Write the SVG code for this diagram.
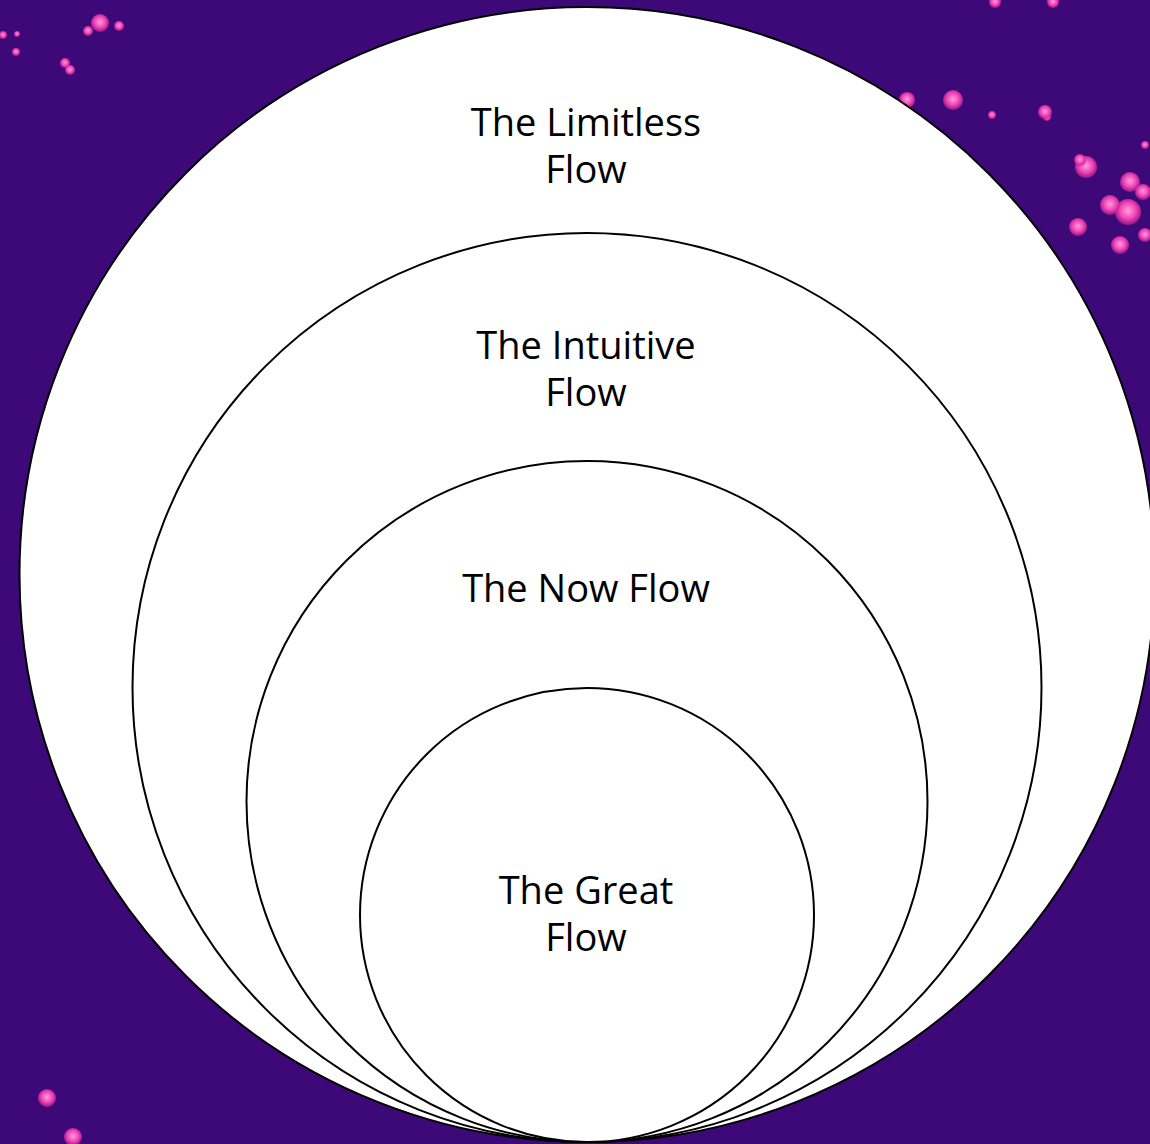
<svg xmlns="http://www.w3.org/2000/svg" width="1150" height="1144" viewBox="0 0 1150 1144">
  <defs>
    <radialGradient id="bokeh" cx="50%" cy="45%" r="55%">
      <stop offset="0" stop-color="#ff9fdc"/>
      <stop offset="0.6" stop-color="#ee3fb4"/>
      <stop offset="1" stop-color="#b8208e" stop-opacity="0.7"/>
    </radialGradient>
    <filter id="grain" x="0" y="0" width="100%" height="100%">
      <feTurbulence type="fractalNoise" baseFrequency="0.9" numOctaves="2" seed="4" result="n"/>
      <feColorMatrix in="n" type="matrix" values="0 0 0 0 0.1  0 0 0 0 0  0 0 0 0 0.25  0 0 0 0.35 0"/>
    </filter>
    <style>
      .ring { fill: #ffffff; stroke: #000000; stroke-width: 2; }
      .lbl { font-family: "Open Sans", "Noto Sans", "DejaVu Sans", sans-serif; font-size: 38px; fill: #000000; text-anchor: middle; }
      .dot { fill: url(#bokeh); }
    </style>
  </defs>
  <rect width="1150" height="1144" fill="#3a0a76"/>
  <rect width="1150" height="1144" filter="url(#grain)" opacity="0.6"/>
  <g id="bokeh-dots">
    <circle class="dot" cx="100" cy="23" r="9"/>
    <circle class="dot" cx="88" cy="31" r="5"/>
    <circle class="dot" cx="119" cy="26" r="5"/>
    <circle class="dot" cx="65" cy="63" r="5"/>
    <circle class="dot" cx="70" cy="70" r="5"/>
    <circle class="dot" cx="3" cy="35" r="4"/>
    <circle class="dot" cx="16" cy="52" r="4"/>
    <circle class="dot" cx="17" cy="34" r="3"/>
    <circle class="dot" cx="907" cy="100" r="8"/>
    <circle class="dot" cx="953" cy="100" r="10"/>
    <circle class="dot" cx="992" cy="115" r="4"/>
    <circle class="dot" cx="1047" cy="117" r="4"/>
    <circle class="dot" cx="1045" cy="112" r="7"/>
    <circle class="dot" cx="1086" cy="167" r="11"/>
    <circle class="dot" cx="1080" cy="160" r="6"/>
    <circle class="dot" cx="1130" cy="182" r="10"/>
    <circle class="dot" cx="1128" cy="212" r="13"/>
    <circle class="dot" cx="1110" cy="205" r="10"/>
    <circle class="dot" cx="1143" cy="192" r="8"/>
    <circle class="dot" cx="1120" cy="245" r="9"/>
    <circle class="dot" cx="1145" cy="235" r="7"/>
    <circle class="dot" cx="1078" cy="227" r="9"/>
    <circle class="dot" cx="1145" cy="145" r="4"/>
    <circle class="dot" cx="995" cy="2" r="6"/>
    <circle class="dot" cx="1053" cy="2" r="6"/>
    <circle class="dot" cx="47" cy="1098" r="9"/>
    <circle class="dot" cx="73" cy="1137" r="9"/>
  </g>
  <g id="node-limitless">
    <circle class="ring" cx="587" cy="574.5" r="567.5"/>
    <text class="lbl" x="586" y="136">The Limitless</text>
    <text class="lbl" x="586" y="183">Flow</text>
  </g>
  <g id="node-intuitive">
    <circle class="ring" cx="587" cy="687.5" r="454.5"/>
    <text class="lbl" x="586" y="359">The Intuitive</text>
    <text class="lbl" x="586" y="406">Flow</text>
  </g>
  <g id="node-now">
    <circle class="ring" cx="587" cy="801.5" r="340.5"/>
    <text class="lbl" x="586" y="602">The Now Flow</text>
  </g>
  <g id="node-great">
    <circle class="ring" cx="587" cy="915" r="227"/>
    <text class="lbl" x="586" y="904">The Great</text>
    <text class="lbl" x="586" y="951">Flow</text>
  </g>
  <g id="connectors"/>
</svg>
